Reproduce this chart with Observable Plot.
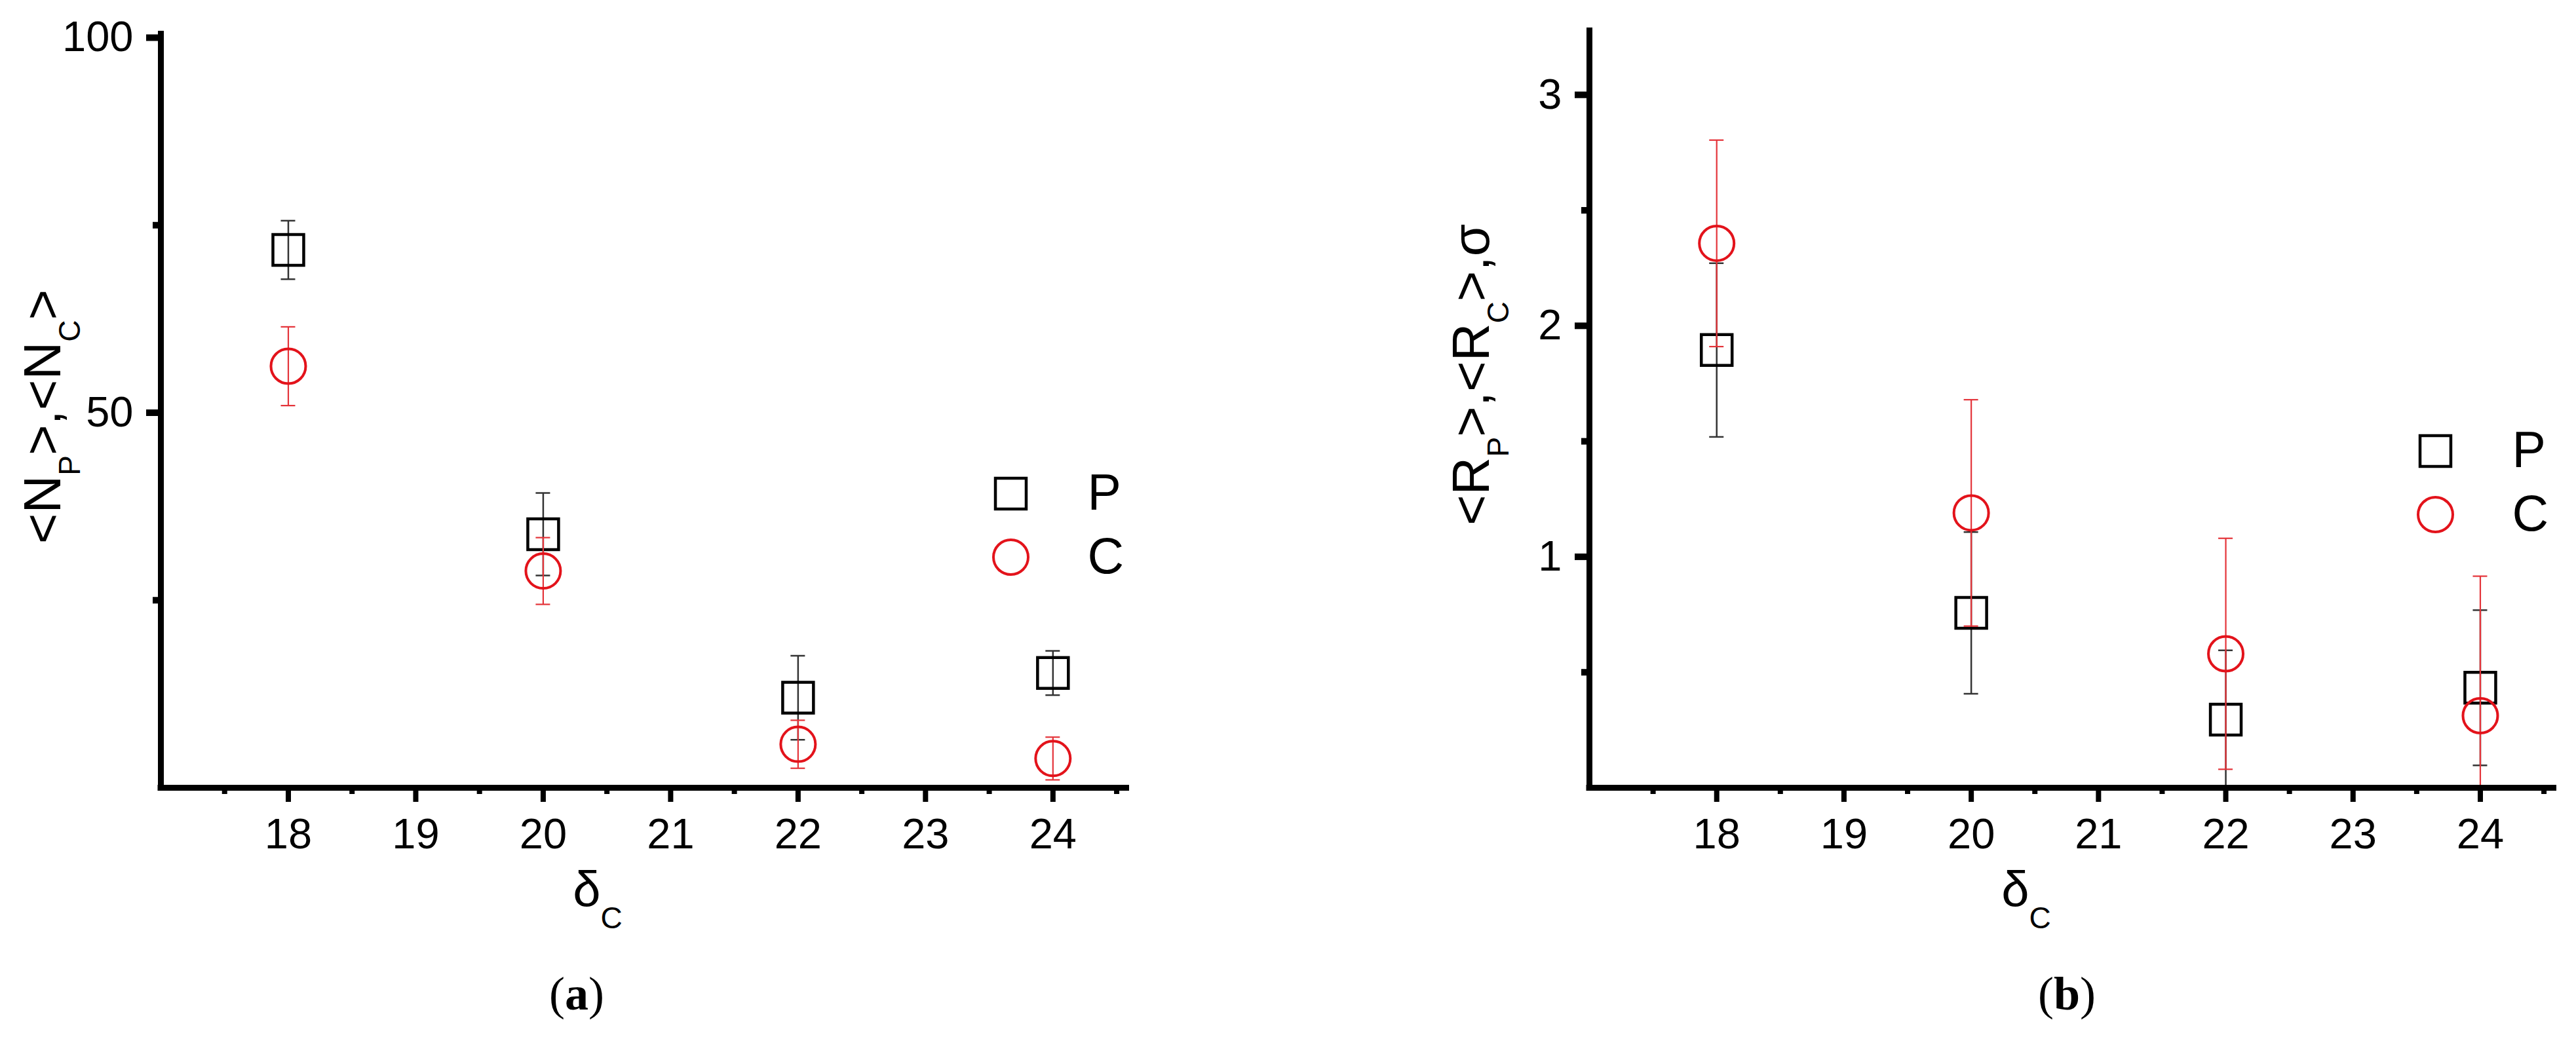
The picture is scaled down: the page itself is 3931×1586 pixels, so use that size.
<!DOCTYPE html>
<html>
<head>
<meta charset="utf-8">
<script src="https://cdn.jsdelivr.net/npm/d3@7"></script>
<script src="https://cdn.jsdelivr.net/npm/@observablehq/plot@0.6"></script>
<style>
  html, body { margin: 0; padding: 0; background: #fff; }
  #page { position: relative; width: 3931px; height: 1586px; overflow: hidden; background: #fff; }
  .panel { position: absolute; top: 0; }
  .caption { position: absolute; top: 1481px; width: 400px; text-align: center;
             font-family: "Liberation Serif", "Times New Roman", serif; font-size: 72px; line-height: 72px; color: #000; }
</style>
</head>
<body>
<div id="page"></div>
<script>
// ---- data ----
const deltaC = [18, 20, 22, 24];
const xTicks = [18, 19, 20, 21, 22, 23, 24];
const xMinorTicks = [17.5, 18.5, 19.5, 20.5, 21.5, 22.5, 23.5, 24.5];

// panel (a): <N_P>, <N_C>
const nP    = [71.7, 33.8, 12.0, 15.3];
const nPErr = [3.9, 5.5, 5.6, 2.95];
const nC    = [56.2, 28.9, 5.8, 3.9];
const nCErr = [5.25, 4.45, 3.2, 2.85];
const nTicks = [50, 100];
const nMinorTicks = [25, 75];

// panel (b): <R_P>, <R_C>, sigma
const rP    = [1.895, 0.757, 0.295, 0.433];
const rPErr = [0.376, 0.35, 0.30, 0.336];
const rC    = [2.357, 1.19, 0.58, 0.312];
const rCErr = [0.447, 0.49, 0.50, 0.604];
const rTicks = [1, 2, 3];
const rMinorTicks = [0.5, 1.5, 2.5];

const seriesNames = ["P", "C"];

// ---- styles ----
const BLACK = "#000";
const BLACK_BAR = "#333";
const RED = "#e3131b";
const RED_BAR = "#e4343a";
const SANS = '"Liberation Sans", Arial, sans-serif';
const intFmt = d => String(d);

function rows(vals, errs) {
  return deltaC.map((d, i) => ({ x: d, y: vals[i], lo: vals[i] - errs[i], hi: vals[i] + errs[i] }));
}

function errorMarks(data, stroke, sw) {
  return [
    Plot.ruleX(data, { x: "x", y1: "lo", y2: "hi", stroke, strokeWidth: sw, clip: true }),
    Plot.ruleY(data, { y: "hi", x1: "x", x2: "x", insetLeft: -11, insetRight: -11, stroke, strokeWidth: sw, clip: true }),
    Plot.ruleY(data, { y: "lo", x1: "x", x2: "x", insetLeft: -11, insetRight: -11, stroke, strokeWidth: sw, clip: true })
  ];
}

function makePanel(cfg) {
  const p = rows(cfg.pVals, cfg.pErr);
  const c = rows(cfg.cVals, cfg.cErr);
  const chart = Plot.plot({
    width: cfg.width,
    height: 1440,
    marginLeft: 245,
    marginRight: cfg.marginRight,
    marginTop: cfg.marginTop,
    marginBottom: 238,
    style: { fontFamily: SANS, background: "transparent", color: "#000", overflow: "visible" },
    x: { domain: [17, 24.6], label: null },
    y: { domain: cfg.yDomain, label: null },
    marks: [
      ...errorMarks(p, BLACK_BAR, 2.5),
      Plot.dot(p, { x: "x", y: "y", symbol: "square", r: 26.5, stroke: BLACK, strokeWidth: 4.5, fill: "none" }),
      ...errorMarks(c, RED_BAR, 2.2),
      Plot.dot(c, { x: "x", y: "y", symbol: "circle", r: 26.5, stroke: RED, strokeWidth: 4, fill: "none" }),
      // axis lines
      Plot.ruleY([cfg.yDomain[0]], { stroke: BLACK, strokeWidth: 9, insetLeft: -4.5 }),
      Plot.ruleX([17], { stroke: BLACK, strokeWidth: 9, insetTop: cfg.axisTopInset, insetBottom: -4.5 }),
      // ticks
      Plot.axisX(xTicks, { tickSize: 22, tickPadding: 24, strokeWidth: 8, fontSize: 65, tickFormat: intFmt, label: null }),
      Plot.axisX(xMinorTicks, { tickSize: 10, strokeWidth: 8, tickFormat: () => "", label: null }),
      Plot.axisY(cfg.yTicks, { tickSize: 22, tickPadding: 20, strokeWidth: 10, fontSize: 65, tickFormat: intFmt, label: null }),
      Plot.axisY(cfg.yMinor, { tickSize: 12, strokeWidth: 10, tickFormat: () => "", label: null }),
      // legend
      Plot.dot([seriesNames[0]], { frameAnchor: "top-left", dx: cfg.legendDx, dy: cfg.legendDy, symbol: "square", r: 26.5, stroke: BLACK, strokeWidth: 4.5, fill: "none" }),
      Plot.dot([seriesNames[1]], { frameAnchor: "top-left", dx: cfg.legendDx, dy: cfg.legendDy + 97, symbol: "circle", r: 26.5, stroke: RED, strokeWidth: 4, fill: "none" }),
      Plot.text([seriesNames[0]], { text: d => d, frameAnchor: "top-left", dx: cfg.legendDx + 117, dy: cfg.legendDy, textAnchor: "start", lineAnchor: "middle", fontSize: 77, fill: BLACK }),
      Plot.text([seriesNames[1]], { text: d => d, frameAnchor: "top-left", dx: cfg.legendDx + 117, dy: cfg.legendDy + 97, textAnchor: "start", lineAnchor: "middle", fontSize: 77, fill: BLACK })
    ]
  });

  const svg = d3.select(chart);
  // y-axis title with subscripts
  const yl = svg.append("text")
    .attr("transform", `translate(92,${cfg.yLabelY}) rotate(-90)`)
    .attr("text-anchor", "middle")
    .attr("fill", "#000")
    .style("font-family", SANS)
    .style("font-size", "80px");
  let shifted = false;
  cfg.yLabelParts.forEach(([t, sub]) => {
    const ts = yl.append("tspan").text(t);
    if (sub && !shifted) { ts.attr("dy", 30).style("font-size", "46px"); shifted = true; }
    else if (!sub && shifted) { ts.attr("dy", -30); shifted = false; }
  });
  // x-axis title: delta_C
  const xl = svg.append("text")
    .attr("x", 912).attr("y", 1383)
    .attr("fill", "#000")
    .style("font-family", SANS)
    .style("font-size", "76px");
  xl.append("tspan").text("δ");
  xl.append("tspan").text("C").attr("dy", 34).style("font-size", "46px");

  return chart;
}

const page = document.getElementById("page");

const left = makePanel({
  width: 1900, marginRight: 177, marginTop: 57,
  yDomain: [0, 100], yTicks: nTicks, yMinor: nMinorTicks,
  pVals: nP, pErr: nPErr, cVals: nC, cErr: nCErr,
  axisTopInset: -10,
  legendDx: 1297, legendDy: 696,
  yLabelY: 636,
  yLabelParts: [["<N", false], ["P", true], [">,<N", false], ["C", true], [">", false]]
});
left.classList.add("panel");
left.style.left = "0px";
page.appendChild(left);

const right = makePanel({
  width: 1751, marginRight: 30, marginTop: 42,
  yDomain: [0, 3.29], yTicks: rTicks, yMinor: rMinorTicks,
  pVals: rP, pErr: rPErr, cVals: rC, cErr: rCErr,
  axisTopInset: 0,
  legendDx: 1291, legendDy: 646,
  yLabelY: 572,
  yLabelParts: [["<R", false], ["P", true], [">,<R", false], ["C", true], [">,σ", false]]
});
right.classList.add("panel");
right.style.left = "2180px";
page.appendChild(right);

// captions below the charts
const capA = document.createElement("div");
capA.className = "caption";
capA.style.left = (880 - 200) + "px";
capA.innerHTML = "(<b>a</b>)";
page.appendChild(capA);

const capB = document.createElement("div");
capB.className = "caption";
capB.style.left = (3154 - 200) + "px";
capB.innerHTML = "(<b>b</b>)";
page.appendChild(capB);
</script>
</body>
</html>
